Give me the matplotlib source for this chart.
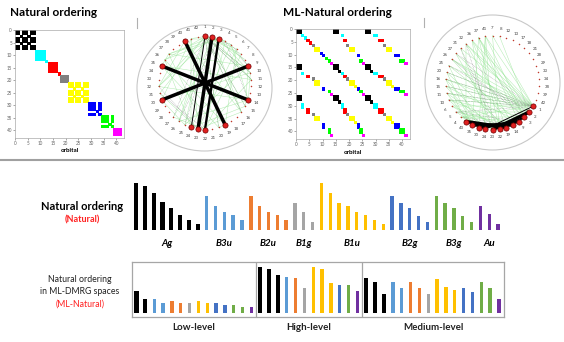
import numpy as np
import matplotlib
matplotlib.use("Agg")
import matplotlib.pyplot as plt
from matplotlib.patches import Ellipse

plt.rcParams['font.family'] = ['Lato', 'DejaVu Sans']

W, H = 564, 342

# symmetry blocks (natural ordering)
irreps = ['Ag', 'B3u', 'B2u', 'B1g', 'B1u', 'B2g', 'B3g', 'Au']
irrep_size = [8, 5, 5, 3, 8, 5, 5, 3]
bar_colors = ['#000000', '#5B9BD5', '#ED7D31', '#A5A5A5', '#FFC000', '#4472C4', '#70AD47', '#7030A0']
matrix_colors = ['#000000', '#00FFFF', '#FF0000', '#808080', '#FFFF00', '#0000FF', '#00FF00', '#FF00FF']

# sub label inside an irrep: orbitals only couple with the same label
sub_label = [0, 0, 1, 0, 0, 1, 0, 0,
             0, 0, 0, 0, 1,
             0, 0, 0, 0, 1,
             0, 0, 0,
             0, 0, 1, 0, 0, 1, 0, 0,
             0, 0, 0, 1, 0,
             0, 0, 0, 1, 0,
             0, 0, 0]

# bar heights, natural ordering (orbitals 1..42)
nat_heights = [46.7, 44, 37.3, 28.3, 21.7, 15, 10, 6,
               34, 24, 18.3, 15, 10,
               34, 24, 18.3, 15, 10,
               26.7, 18.3, 8.3,
               46.7, 37.3, 26.7, 24, 18.3, 15, 10, 6,
               34, 26.7, 21.7, 14.3, 8.3,
               34, 26.7, 21.7, 14.3, 8.3,
               24, 16, 6]

# ML-DMRG ordering: low / high / medium level spaces
ml_order = [7, 8, 12, 13, 17, 18, 21, 28, 29, 33, 34, 38, 39, 42,
            1, 2, 3, 9, 14, 19, 22, 23, 24, 30, 35, 40,
            4, 5, 6, 10, 11, 15, 16, 20, 25, 26, 27, 31, 32, 36, 37, 41]
ml_heights = [22, 13.7, 13.7, 9.3, 12, 9.3, 9.3, 12, 9.3, 9.3, 7.7, 7.7, 5.3, 5.3,
              46, 43.3, 37.7, 36, 34.3, 24.3, 46, 43.3, 30, 27.7, 27.7, 21.7,
              34.3, 30.3, 18.3, 30.3, 24.3, 30.3, 24.3, 18.3, 33.7, 26, 22.7, 24.3, 20.3, 30.3, 24.3, 13.3]
levels = ['Low-level', 'High-level', 'Medium-level']
level_size = [14, 12, 16]

# orbital interaction graph
high_orbitals = [1, 2, 3, 9, 14, 19, 22, 23, 24, 30, 35, 40]
strong_pairs = [(2, 23), (3, 22), (1, 24), (9, 30), (14, 35), (19, 40)]
strong_mi = [0.9, 0.6, 0.25, 0.9, 0.9, 0.9]
weak_pairs = [(1, 4), (1, 6), (1, 10), (1, 15), (1, 20), (1, 25), (1, 31), (1, 36), (1, 41),
              (2, 5), (2, 11), (2, 16), (2, 26), (2, 32), (2, 37), (3, 4), (3, 10), (3, 27),
              (3, 36), (3, 41), (9, 4), (9, 15), (9, 25), (9, 37), (14, 5), (14, 10), (14, 26),
              (14, 32), (19, 6), (19, 20), (19, 36), (22, 4), (22, 11), (22, 27), (22, 37),
              (23, 6), (23, 16), (23, 31), (23, 41), (24, 5), (24, 15), (24, 36), (30, 10),
              (30, 25), (30, 41), (35, 11), (35, 20), (35, 37), (40, 16), (40, 32), (1, 7),
              (2, 8), (22, 7), (24, 41), (3, 37), (1, 26), (1, 32), (1, 16), (1, 11)]
dotted_pairs = [(1, 10), (1, 11), (1, 15), (1, 16), (1, 20), (1, 5), (2, 25), (3, 26),
                (22, 31), (23, 32), (9, 5), (14, 4), (1, 27)]

irrep_of = np.repeat(np.arange(len(irreps)), irrep_size)
n = len(irrep_of)

fig = plt.figure(figsize=(W / 100, H / 100), dpi=100)


def px_axes(x0, y0, x1, y1):
    return fig.add_axes([x0 / W, 1 - y1 / H, (x1 - x0) / W, (y1 - y0) / H])


def draw_matrix(box, order):
    ax = px_axes(*box)
    idx = np.array(order) - 1
    ir = irrep_of[idx]
    sb = np.array(sub_label)[idx]
    same = (ir[:, None] == ir[None, :]) & (sb[:, None] == sb[None, :])
    rows, cols = np.nonzero(same)
    ax.scatter(cols + 0.5, rows + 0.5, s=5.5, marker='s', lw=0,
               c=[matrix_colors[ir[r]] for r in rows])
    ax.set_xlim(0, n + 1)
    ax.set_ylim(n + 1, 0)
    ax.set_xticks(range(0, 45, 5))
    ax.set_yticks(range(0, 45, 5))
    ax.tick_params(labelsize=3.3, length=1.2, width=0.4, colors='#666666', pad=1)
    for s in ax.spines.values():
        s.set_color('#AAAAAA')
        s.set_linewidth(0.5)


def draw_circle(box, order, cx, cy, r_node, r_label, outer):
    ax = px_axes(*box)
    ax.set_xlim(box[0], box[2])
    ax.set_ylim(box[3], box[1])
    ax.axis('off')
    ocx, ocy, orx, ory = outer
    ax.add_patch(Ellipse((ocx, ocy), 2 * orx, 2 * ory, fill=False, ec='#C8C8C8', lw=0.8))
    pos = {}
    for k, orb in enumerate(order):
        a = np.deg2rad(90 - k * 360 / n)
        pos[orb] = (cx + r_node * np.cos(a), cy - r_node * np.sin(a))
        ax.text(cx + r_label * np.cos(a), cy - r_label * np.sin(a), str(orb),
                fontsize=3.2, color='#444444', ha='center', va='center')
    for a, b in weak_pairs:
        ax.plot([pos[a][0], pos[b][0]], [pos[a][1], pos[b][1]], color='#8FE38F', lw=0.35, alpha=0.7)
    for a, b in dotted_pairs:
        ax.plot([pos[a][0], pos[b][0]], [pos[a][1], pos[b][1]], color='#888888', lw=0.4, ls=':')
    for (a, b), mi in zip(strong_pairs, strong_mi):
        ax.plot([pos[a][0], pos[b][0]], [pos[a][1], pos[b][1]], color='black', lw=2.8 * mi,
                solid_capstyle='round')
    xs = [pos[o][0] for o in order]
    ys = [pos[o][1] for o in order]
    ax.scatter(xs, ys, s=1.2, color='#C0392B', lw=0, zorder=3)
    ax.scatter([pos[o][0] for o in high_orbitals], [pos[o][1] for o in high_orbitals],
               s=14, color='#E02020', edgecolors='#700000', lw=0.5, zorder=4)


# top row
fig.text(10 / W, 1 - 12 / H, 'Natural ordering', fontsize=8.5, fontweight='bold', va='center')
fig.text(283 / W, 1 - 12 / H, 'ML-Natural ordering', fontsize=8.5, fontweight='bold', va='center')

draw_matrix((15, 30, 124, 138), list(range(1, n + 1)))
fig.text(70 / W, 1 - 151 / H, 'orbital', fontsize=4.5, fontweight='bold', ha='center', va='center')
draw_matrix((296, 29, 410, 139), ml_order)
fig.text(353 / W, 1 - 152 / H, 'orbital', fontsize=4.5, fontweight='bold', ha='center', va='center')

draw_circle((130, 15, 280, 160), list(range(1, n + 1)), 205, 83, 46.5, 55.5, (204.5, 88, 67.5, 63))
draw_circle((418, 8, 564, 158), ml_order, 492.5, 82.7, 47, 54.5, (492.5, 82.5, 67.5, 67.5))

# separators
fig.add_artist(plt.Line2D([0, 1], [1 - 160 / H, 1 - 160 / H], color='#A0A0A0', lw=1.5))
fig.add_artist(plt.Line2D([137 / W, 137 / W], [1 - 18 / H, 1 - 28 / H], color='#B0B0B0', lw=0.8))
fig.add_artist(plt.Line2D([424 / W, 424 / W], [1 - 18 / H, 1 - 27 / H], color='#B0B0B0', lw=0.8))

# bars, natural ordering
ax1 = px_axes(127.2, 175, 506.9, 230)
ax1.set_xlim(-1, n)
ax1.set_ylim(0, 55)
ax1.axis('off')
widths = [0.48 if i == 0 else 0.38 for i in irrep_of]
ax1.bar(np.arange(n), nat_heights, width=widths, color=[bar_colors[i] for i in irrep_of])
start = 0
for name, size in zip(irreps, irrep_size):
    ax1.text(start + (size - 1) / 2, -13, name, fontsize=7, fontweight='bold', style='italic',
             ha='center', va='center', clip_on=False)
    start += size

fig.text(82 / W, 1 - 206 / H, 'Natural ordering', fontsize=8, fontweight='bold', ha='center', va='center')
fig.text(82 / W, 1 - 220 / H, '(Natural)', fontsize=6.5, fontweight='bold', color='#FF2020',
         ha='center', va='center')

# bars, ML-natural ordering
ml_irrep = irrep_of[np.array(ml_order) - 1]
ax2 = px_axes(131.7, 261.7, 504, 316.7)
ax2.set_xlim((131.7 - 136.5) / 8.84, (504 - 136.5) / 8.84)
ax2.set_ylim(-4, 51)
ax2.set_xticks([])
ax2.set_yticks([])
for s in ax2.spines.values():
    s.set_color('#A6A6A6')
    s.set_linewidth(0.9)
widths2 = [0.48 if i == 0 else 0.38 for i in ml_irrep]
ax2.bar(np.arange(n), ml_heights, width=widths2, color=[bar_colors[i] for i in ml_irrep])
bounds = np.cumsum([0] + level_size) - 0.5
bounds[0] = ax2.get_xlim()[0]
bounds[-1] = ax2.get_xlim()[1]
for b in bounds[1:-1]:
    ax2.axvline(b, color='#A6A6A6', lw=0.9)
for name, lo, hi in zip(levels, bounds[:-1], bounds[1:]):
    ax2.text((lo + hi) / 2, -14.5, name, fontsize=7, fontweight='bold', ha='center', va='center',
             clip_on=False, color='#222222')

fig.text(80 / W, 1 - 279 / H, 'Natural ordering', fontsize=6.3, ha='center', va='center', color='#222222')
fig.text(80 / W, 1 - 292 / H, 'in ML-DMRG spaces', fontsize=6.3, ha='center', va='center', color='#222222')
fig.text(80 / W, 1 - 304 / H, '(ML-Natural)', fontsize=6.3, color='#FF2020', ha='center', va='center')

fig.savefig('out.png', dpi=100)
